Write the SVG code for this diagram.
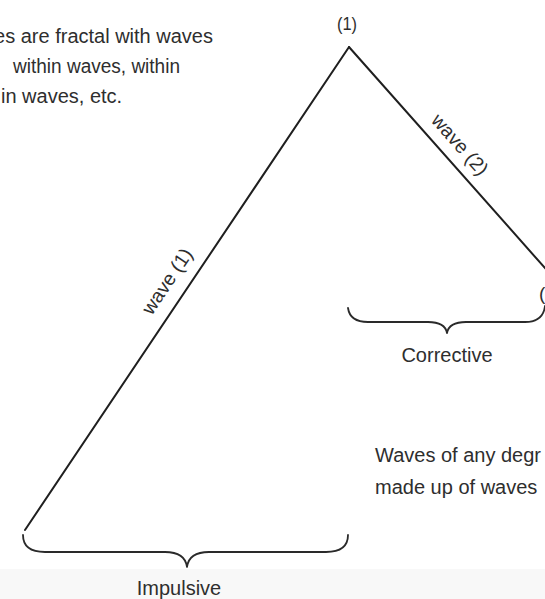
<svg xmlns="http://www.w3.org/2000/svg" width="545" height="599" viewBox="0 0 545 599">
<style>
text{font-family:"Liberation Sans",Arial,sans-serif;fill:#2e2e2e;font-size:20px}
.ln{stroke:#1f1f1f;stroke-width:2;fill:none;stroke-linecap:round}
.br{stroke:#2a2a2a;stroke-width:1.8;fill:none;stroke-linecap:round;stroke-linejoin:round}
.lbl{font-size:19.5px}
.pk{font-size:19px}
</style>
<rect x="0" y="0" width="545" height="599" fill="#ffffff"/>
<rect x="0" y="569" width="545" height="30" fill="#f8f8f8"/>
<g id="note-top">
<text x="213" y="43" text-anchor="end">es are fractal with waves</text>
<text x="13" y="73" textLength="167" lengthAdjust="spacingAndGlyphs">within waves, within</text>
<text x="1" y="103">in waves, etc.</text>
</g>
<g id="note-bottom">
<text x="375" y="462">Waves of any degr</text>
<text x="375" y="494">made up of waves</text>
</g>
<g id="connectors">
<line id="wave1" class="ln" x1="25" y1="530" x2="349" y2="47"/>
<line id="wave2" class="ln" x1="349" y1="47" x2="560" y2="285"/>
</g>
<g id="peak1">
<text class="pk" x="337" y="30" textLength="20" lengthAdjust="spacingAndGlyphs">(1)</text>
</g>
<g id="peak2">
<text class="pk" x="539" y="300">(2)</text>
</g>
<g id="label-wave1">
<text class="lbl" text-anchor="middle" transform="translate(172.6,285) rotate(-56.1)">wave (1)</text>
</g>
<g id="label-wave2">
<text class="lbl" text-anchor="middle" transform="translate(455,149) rotate(48.4)">wave (2)</text>
</g>
<g id="impulsive">
<path class="br" d="M23,535 Q23,552 45,552 L165,552 Q185,552 187,567 Q189,552 209,552 L326,552 Q348,552 348,535"/>
<text x="179" y="595" text-anchor="middle">Impulsive</text>
</g>
<g id="corrective">
<path class="br" d="M348,308 Q350,322 368,322 L428,322 Q445,322 447,333 Q449,322 466,322 L525,322 Q543,322 545,306"/>
<text x="447" y="362" text-anchor="middle">Corrective</text>
</g>
</svg>
